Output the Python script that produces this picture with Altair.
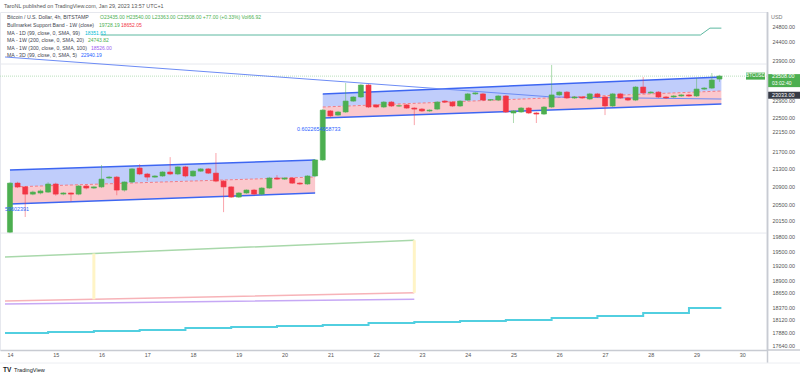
import altair as alt
import pandas as pd

# ---------------- data ----------------
# 4-hour bars, hours since 2023-01-14 00:00 UTC
bar_hours = list(range(0, 376, 4))
opens = [19900, 20970, 20885, 20725, 20750, 20770, 20950, 20725, 20750, 20725,
         20905, 20860, 20885, 21085, 21105, 20815, 20995, 21310, 21175, 21105,
         21130, 21220, 21175, 21335, 21130, 21240, 21290, 21195, 21015, 20885,
         20660, 20750, 20815, 20725, 20860, 21085, 21060, 21085, 20970, 20950,
         21130, 21495, 22650, 22550, 22625, 22890, 22990, 23285, 22795, 22745,
         22865, 22770, 22795, 22720, 22695, 22650, 22695, 22890, 22865, 22770,
         22915, 23065, 23065, 22915, 22915, 23015, 22600, 22625, 22720, 22600,
         22575, 22745, 23040, 23110, 22965, 22990, 22940, 23065, 22990, 22770,
         23065, 22965, 22915, 23235, 23090, 23110, 22990, 22990, 23015, 23040,
         23015, 23185, 23210, 23435]
highs = [20990, 21000, 20900, 20800, 20830, 20990, 20980, 20770, 20760, 20930,
         20930, 20900, 21380, 21130, 21130, 21010, 21310, 21400, 21200, 21150,
         21240, 21560, 21350, 21360, 21260, 21310, 21310, 21655, 21040, 20900,
         20770, 20830, 20840, 20880, 21110, 21150, 21100, 21100, 20990, 21150,
         21510, 22700, 22672, 22650, 23335, 23010, 23310, 23310, 22820, 22890,
         22890, 22800, 22820, 22740, 22720, 22690, 22890, 22915, 22890, 22915,
         23090, 23110, 23090, 22940, 23040, 23040, 22670, 22745, 22745, 22625,
         22770, 23790, 23135, 23135, 23015, 23015, 23090, 23090, 23015, 23090,
         23090, 22990, 23260, 23485, 23135, 23135, 23015, 23040, 23065, 23065,
         23460, 23235, 23585, 23540]
lows = [19880, 20860, 20225, 20700, 20720, 20750, 20690, 20700, 20560, 20700,
        20830, 20840, 20860, 21060, 20700, 20780, 20970, 21150, 21020, 21090,
        21110, 21150, 21150, 21100, 21110, 21220, 21175, 20990, 20330, 20640,
        20640, 20730, 20700, 20700, 20840, 21040, 21040, 20950, 20930, 20930,
        21110, 21470, 22480, 22530, 22600, 22870, 22965, 22720, 22720, 22720,
        22745, 22745, 22700, 22310, 22625, 22625, 22670, 22845, 22745, 22745,
        22890, 23040, 22890, 22890, 22890, 22600, 22360, 22600, 22575, 22360,
        22550, 22720, 23015, 22940, 22940, 22940, 22915, 22965, 22550, 22745,
        22940, 22890, 22890, 23065, 23065, 22965, 22940, 22965, 22990, 22990,
        22990, 23160, 23185, 23363]
closes = [20970, 20885, 20725, 20770, 20795, 20950, 20725, 20750, 20725, 20905,
          20860, 20885, 21060, 21105, 20815, 20995, 21290, 21175, 21105, 21130,
          21220, 21175, 21335, 21130, 21240, 21290, 21195, 21015, 20885, 20660,
          20750, 20815, 20725, 20860, 21085, 21060, 21085, 20970, 20950, 21130,
          21495, 22670, 22530, 22625, 22890, 22990, 23285, 22745, 22745, 22865,
          22770, 22775, 22720, 22695, 22650, 22670, 22865, 22865, 22770, 22890,
          23065, 23090, 22915, 22925, 23015, 22625, 22650, 22720, 22600, 22575,
          22745, 23040, 23110, 22965, 22990, 22965, 23065, 22990, 22770, 23065,
          22965, 22915, 23235, 23090, 23110, 22990, 22965, 23015, 23040, 23015,
          23185, 23210, 23410, 23508]

# regression channels
ch1_hours = [0, 160]
ch1_top = [21265, 21493]
ch1_mid = [20883, 21107]
ch1_bot = [20507, 20749]
ch2_hours = [164, 373]
ch2_top = [23063, 23486]
ch2_mid = [22745, 23137]
ch2_bot = [22479, 22818]

# moving averages
ma3d_hours = [-2.6, 284.6, 373]
ma3d_vals = [23993, 22989, 22940]
ma1w200_hours = [47.6, 362, 367, 373]
ma1w200_vals = [24563, 24563, 24744, 24744]
ma1d_hours = [-2.6, 20, 44, 68, 92, 116, 140, 164, 188, 212, 236, 260, 284, 308, 332, 356, 373]
ma1d_vals = [17868, 17887, 17906, 17925, 17964, 17983, 18002, 18021, 18060, 18079,
             18099, 18118, 18157, 18195, 18254, 18351, 18351]

# bull market support band (1W) and MA 1W 300
sb_hours = [-2.6, 44, 212]
sb_upper = [19378, 19451, 19728]
sb_lower = [18489, 18522, 18652]
ma1w300_vals = [18429, 18451, 18526]
sb_mark_hours = [44, 212]

# horizontal levels
gray_levels = [23814, 19881]
last_price = 23508
marker_price = 23033

day_numbers = list(range(14, 31))
price_ticks = [24800, 24400, 23900, 22900, 22500, 22150, 21700, 21300, 20900,
               20500, 20150, 19800, 19500, 19200, 18900, 18650, 18370, 18120, 17880, 17640]

# ---------------- style ----------------
FONT = "Liberation Sans"
FS = 5.4
LFS = 5.2
GREEN = "#4caf50"
RED = "#f23645"
TXT = "#434651"

XS = alt.Scale(domain=[-2.6, 394.3], nice=False, zero=False)
YS = alt.Scale(type="log", domain=[17547, 25174], nice=False)
xaxis = alt.Axis(values=[(d - 14) * 24 for d in day_numbers],
                 labelExpr="toString(14 + round(datum.value / 24))",
                 labelFontSize=FS, labelColor="#555", labelFont=FONT, ticks=False, grid=False,
                 domainColor="#c8cbd2", domainWidth=1.5, labelPadding=2, labelFlush=False,
                 labelOverlap=False, title=None)
yaxis = alt.Axis(values=price_ticks, format=".2f", orient="right",
                 labelFontSize=FS, labelColor="#555", labelFont=FONT, ticks=False, grid=False,
                 domainColor="#c8cbd2", domainWidth=1.5, labelPadding=5, labelFlush=False,
                 labelOverlap=False, title=None)


def X(f):
    return alt.X(f"{f}:Q", scale=XS, axis=xaxis, title=None)


def Y(f):
    return alt.Y(f"{f}:Q", scale=YS, axis=yaxis, title=None)


def txt(s, x, y, color=TXT, size=LFS, weight="normal", align="left"):
    return alt.Chart(pd.DataFrame({"t": [s]})).mark_text(
        align=align, baseline="middle", fontSize=size, font=FONT, color=color, fontWeight=weight
    ).encode(text="t:N", x=alt.value(x), y=alt.value(y - 12))


def line(hours, vals, color, width=1.0, **kw):
    d = pd.DataFrame({"h": hours, "v": vals})
    return alt.Chart(d).mark_line(color=color, strokeWidth=width, **kw).encode(x=X("h"), y=Y("v"))


layers = []

# horizontal helper lines
hl = pd.DataFrame({"p": gray_levels})
layers.append(alt.Chart(hl).mark_rule(color="#e6e8ee", strokeWidth=1).encode(
    y=Y("p"), x=alt.value(0), x2=alt.value(767)))
pl = pd.DataFrame({"p": [last_price]})
layers.append(alt.Chart(pl).mark_rule(color="#b9dfbb", strokeWidth=1, strokeDash=[1, 1]).encode(
    y=Y("p"), x=alt.value(0), x2=alt.value(767)))

# channels
for hrs, top, mid, bot in [(ch1_hours, ch1_top, ch1_mid, ch1_bot), (ch2_hours, ch2_top, ch2_mid, ch2_bot)]:
    d = pd.DataFrame({"h": hrs, "top": top, "mid": mid, "bot": bot})
    layers.append(alt.Chart(d).mark_area(color="#c0cdfb", opacity=1).encode(x=X("h"), y=Y("top"), y2="mid"))
    layers.append(alt.Chart(d).mark_area(color="#fbc8cd", opacity=1).encode(x=X("h"), y=Y("mid"), y2="bot"))
    layers.append(line(hrs, top, "#3d66f2", 1.5))
    layers.append(line(hrs, bot, "#3d66f2", 1.5))
    layers.append(line(hrs, mid, "#f07c88", 1.0, strokeDash=[3, 2]))

# moving averages / bands
layers.append(line(ma3d_hours, ma3d_vals, "#6d8cf5", 1.0))
layers.append(line(ma1w200_hours, ma1w200_vals, "#5cb8a0", 1.0))
layers.append(line(ma1d_hours, ma1d_vals, "#52cfe0", 2.0, interpolate="step-after"))
layers.append(line(sb_hours, sb_upper, "#a8d8aa", 1.5))
layers.append(line(sb_hours, sb_lower, "#f7b3b8", 1.5))
layers.append(line(sb_hours, ma1w300_vals, "#c6a8f5", 1.5))
sbm = pd.DataFrame({"h": sb_mark_hours, "u": [sb_upper[1], sb_upper[2]], "l": [sb_lower[1], sb_lower[2]]})
layers.append(alt.Chart(sbm).mark_rule(color="#fff4c6", strokeWidth=3).encode(x=X("h"), y=Y("u"), y2="l"))

# candles
df = pd.DataFrame({"h": bar_hours, "o": opens, "hi": highs, "lo": lows, "c": closes})
df["top"] = df[["o", "c"]].max(axis=1)
df["bot"] = df[["o", "c"]].min(axis=1)
up = alt.condition("datum.c >= datum.o", alt.value(GREEN), alt.value(RED))
layers.append(alt.Chart(df).mark_rule(strokeWidth=1, opacity=0.45).encode(
    x=X("h"), y=Y("lo"), y2="hi", color=up))
layers.append(alt.Chart(df).mark_bar(size=5, strokeWidth=0.6).encode(
    x=X("h"), y=Y("bot"), y2="top", fill=up, stroke=up))

# channel annotations
layers.append(txt("0.6022654958733", 297, 129, color="#2962ff", size=FS))
layers.append(txt("59602391", 5, 209, color="#2962ff", size=FS))

# price axis extras
layers.append(alt.Chart(pl).mark_rule(color=GREEN, strokeWidth=13, strokeCap="butt", yOffset=4.5).encode(
    y=Y("p"), x=alt.value(768), x2=alt.value(800)))
lab = pd.DataFrame({"p": [last_price], "t": ["23508.00"], "cd": ["03:02:40"]})
layers.append(alt.Chart(lab).mark_text(align="left", baseline="middle", fontSize=FS, font=FONT, color="white").encode(
    y=Y("p"), x=alt.value(772), text="t:N"))
layers.append(alt.Chart(lab).mark_text(align="left", baseline="middle", fontSize=FS - 0.4, font=FONT, color="white",
                                       dy=6.5).encode(y=Y("p"), x=alt.value(772), text="cd:N"))
layers.append(alt.Chart(pl).mark_rule(color=GREEN, strokeWidth=7, strokeCap="butt").encode(
    y=Y("p"), x=alt.value(746), x2=alt.value(765)))
layers.append(alt.Chart(pd.DataFrame({"p": [last_price], "t": ["BTCUSD"]})).mark_text(
    align="center", baseline="middle", fontSize=4.6, font=FONT, color="white").encode(
    y=Y("p"), x=alt.value(755.5), text="t:N"))
mk = pd.DataFrame({"p": [marker_price], "t": ["23033.00"]})
layers.append(alt.Chart(mk).mark_rule(color="#363a45", strokeWidth=7, strokeCap="butt").encode(
    y=Y("p"), x=alt.value(768), x2=alt.value(800)))
layers.append(alt.Chart(mk).mark_text(align="left", baseline="middle", fontSize=FS, font=FONT, color="white").encode(
    y=Y("p"), x=alt.value(772), text="t:N"))
layers.append(txt("USD", 771, 17, color="#777", size=FS))

# frame lines outside plot
frame = pd.DataFrame({"k": [0]})
layers.append(alt.Chart(frame).mark_rule(color="#c8cbd2", strokeWidth=1.5).encode(
    x=alt.value(767.5), y=alt.value(0), y2=alt.value(351)))
layers.append(alt.Chart(frame).mark_rule(color="#c8cbd2", strokeWidth=1.5).encode(
    x=alt.value(767), x2=alt.value(800), y=alt.value(338)))
layers.append(alt.Chart(frame).mark_rule(color="#eceef2", strokeWidth=1).encode(
    x=alt.value(0), x2=alt.value(800), y=alt.value(351)))

# legend / header texts
layers.append(txt("TaroNL published on TradingView.com, Jan 29, 2023 13:57 UTC+1", 4, 6, color="#555", size=FS))
layers.append(txt("Bitcoin / U.S. Dollar, 4h, BITSTAMP", 7, 17))
layers.append(txt("O23435.00  H23540.00  L23363.00  C23508.00  +77.00 (+0.33%)  Vol66.92", 100, 17,
                  color=GREEN, size=5.0))
layers.append(txt("Bullmarket Support Band - 1W (close)", 7, 25))
layers.append(txt("19728.19", 99, 25, color=GREEN, size=5.0))
layers.append(txt("18652.05", 121, 25, color=RED, size=5.0))
layers.append(txt("MA - 1D (99, close, 0, SMA, 99)", 7, 33))
layers.append(txt("18351.63", 85, 33, color="#00bcd4", size=5.0))
layers.append(txt("MA - 1W (200, close, 0, SMA, 20)", 7, 40))
layers.append(txt("24743.82", 88, 40, color=GREEN, size=5.0))
layers.append(txt("MA - 1W (300, close, 0, SMA, 100)", 7, 48))
layers.append(txt("18526.00", 91, 48, color="#9c5cf0", size=5.0))
layers.append(txt("MA - 3D (99, close, 0, SMA, 5)", 7, 55))
layers.append(txt("22940.19", 81, 55, color="#2962ff", size=5.0))

# footer logo
layers.append(txt("TV", 3, 370, color="#131722", size=6.5, weight="bold"))
layers.append(txt("TradingView", 14, 370, color="#131722", size=5.6))

chart = alt.layer(*layers).properties(
    width=767, height=338,
    autosize=alt.AutoSizeParams(type="none"),
    padding={"left": 0, "top": 12, "right": 33, "bottom": 28},
    background="white",
).configure_view(stroke="#e6e8ee")

chart.save("out.html", embed_options={"renderer": "svg", "actions": False})
